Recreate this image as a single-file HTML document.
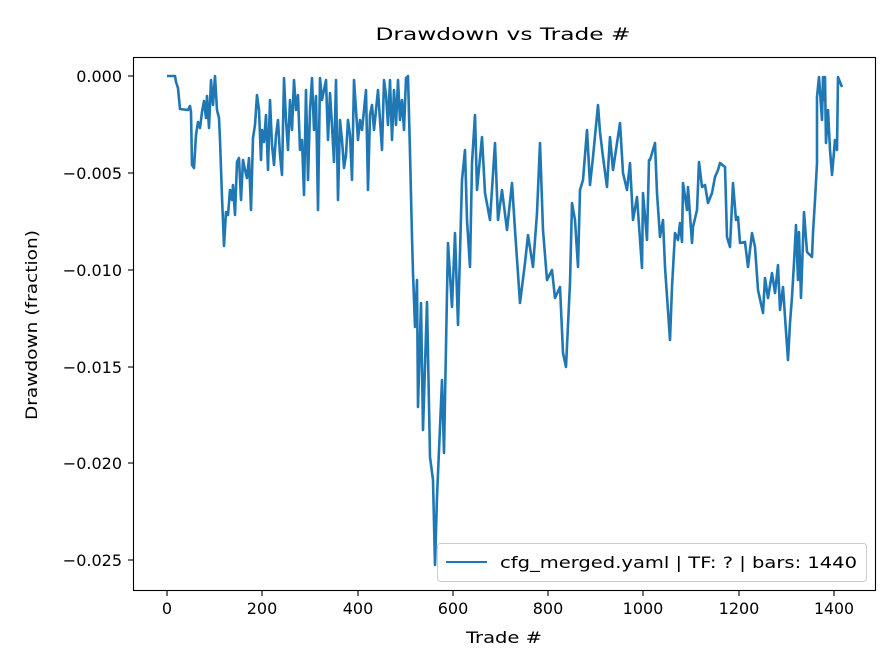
<!DOCTYPE html>
<html><head><meta charset="utf-8"><style>
body{margin:0;background:#fff;}
svg{display:block;font-family:"DejaVu Sans","Liberation Sans",sans-serif;}
</style></head><body>
<svg width="896" height="672" viewBox="0 0 896 672" xmlns="http://www.w3.org/2000/svg">
<rect width="896" height="672" fill="#fff"/>
<text x="503" y="40" font-size="17" text-anchor="middle" textLength="255" lengthAdjust="spacingAndGlyphs" fill="#000">Drawdown vs Trade #</text>
<polyline fill="none" stroke="#1f77b4" stroke-width="2.6" stroke-linejoin="round" points="
167,76 175,76 176,82 178,88 180,109 188,110 190,106 191,112 192,165 194,168 196,135 198,122 200,128 202,112 204,101 206,118 207,96 209,128 211,80 213,105 215,76 217,110 219,118 220,140 222,197 224,246 226,212 228,215 230,190 232,200 233,185 235,215 237,162 239,158 241,200 243,160 245,170 247,178 249,158 251,210 253,138 255,125 257,95 259,110 261,160 262,130 264,142 266,115 268,170 270,100 272,145 274,165 276,135 278,120 280,155 282,175 284,78 286,120 288,150 290,100 292,130 294,80 296,110 298,95 300,150 302,140 304,195 306,90 308,180 310,110 312,78 314,130 316,96 318,210 320,78 322,100 324,90 326,80 328,140 330,93 332,126 334,162 336,80 338,200 340,120 342,140 344,168 346,155 348,120 350,135 352,180 354,80 356,110 358,140 360,120 362,130 364,110 366,90 368,190 370,115 372,105 374,130 376,110 378,90 380,120 382,150 384,80 386,95 388,125 390,80 392,140 394,90 396,125 398,80 400,120 402,100 404,130 406,78 408,76 410,153 412,237 413,273 415,327 417,280 418,407 421,303 423,430 427,302 430,457 433,480 435,565 437,497 442,380 444,453 447,293 448,243 452,307 455,233 458,325 462,180 465,150 467,220 470,267 472,163 475,115 477,190 482,137 485,193 490,220 495,143 498,220 502,190 507,230 512,183 515,230 520,303 525,263 528,235 533,267 537,213 540,143 543,230 547,280 552,270 555,298 560,287 563,353 566,367 570,283 572,203 575,220 578,267 580,190 583,180 587,130 590,185 593,157 598,105 600,132 603,157 607,187 610,137 613,170 620,123 623,173 627,190 630,163 633,220 637,197 642,268 643,193 647,240 649,160 650,160 655,143 657,193 660,237 663,220 665,267 670,340 672,287 675,233 678,240 680,223 682,242 683,183 687,210 688,187 692,243 693,227 697,210 699,162 702,187 705,185 708,203 712,193 715,177 718,170 720,163 725,167 727,237 730,247 733,183 736,220 738,217 740,243 745,242 748,267 752,233 755,247 758,290 763,313 765,278 768,298 772,273 775,293 778,265 780,310 783,287 785,317 788,360 790,323 792,297 794,263 796,225 798,280 799,232 801,298 804,212 807,252 812,257 813,233 815,200 817,163 817,97 819,77 822,120 823,77 824,100 825,77 826,143 828,110 830,150 832,175 835,140 837,150 838,77 842,87"/>
<rect x="133.5" y="57.5" width="742" height="533" fill="none" stroke="#000" stroke-width="1.1"/>
<g stroke="#000" stroke-width="1.1">
<line x1="167" y1="591" x2="167" y2="596"/><line x1="262" y1="591" x2="262" y2="596"/><line x1="358" y1="591" x2="358" y2="596"/><line x1="453" y1="591" x2="453" y2="596"/><line x1="548" y1="591" x2="548" y2="596"/><line x1="643" y1="591" x2="643" y2="596"/><line x1="739" y1="591" x2="739" y2="596"/><line x1="834" y1="591" x2="834" y2="596"/>
<line x1="128" y1="76" x2="133" y2="76"/><line x1="128" y1="173" x2="133" y2="173"/><line x1="128" y1="270" x2="133" y2="270"/><line x1="128" y1="367" x2="133" y2="367"/><line x1="128" y1="463" x2="133" y2="463"/><line x1="128" y1="560" x2="133" y2="560"/>
</g>
<g font-size="16" fill="#000" text-anchor="middle">
<text x="167" y="614">0</text><text x="262" y="614">200</text><text x="358" y="614">400</text><text x="453" y="614">600</text><text x="548" y="614">800</text><text x="643" y="614">1000</text><text x="739" y="614">1200</text><text x="834" y="614" textLength="40" lengthAdjust="spacingAndGlyphs">1400</text>
<text x="504" y="643" textLength="76" lengthAdjust="spacingAndGlyphs">Trade #</text>
</g>
<g font-size="16" fill="#000" text-anchor="end">
<text x="122" y="82">0.000</text><text x="122" y="179">−0.005</text><text x="122" y="276">−0.010</text><text x="122" y="373">−0.015</text><text x="122" y="469">−0.020</text><text x="122" y="566">−0.025</text>
</g>
<text x="0" y="0" font-size="16" text-anchor="middle" textLength="190" lengthAdjust="spacingAndGlyphs" transform="translate(37,325) rotate(-90)">Drawdown (fraction)</text>
<rect x="437.5" y="543.5" width="429" height="38" rx="3" fill="#fff" fill-opacity="0.8" stroke="#ccc"/>
<line x1="446" y1="562" x2="487" y2="562" stroke="#1f77b4" stroke-width="2.1"/>
<text x="500" y="568" font-size="16" textLength="357" lengthAdjust="spacingAndGlyphs">cfg_merged.yaml | TF: ? | bars: 1440</text>
</svg>
</body></html>
